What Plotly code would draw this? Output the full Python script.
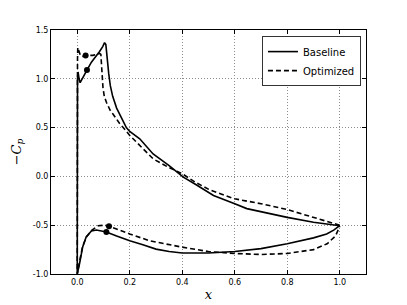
import plotly.graph_objects as go

# Baseline, upper surface (leading edge -> trailing edge)
base_up_x = [0.0, 0.0005, 0.001, 0.003, 0.007, 0.011, 0.02, 0.037, 0.054, 0.07, 0.085, 0.097, 0.104,
             0.109, 0.113, 0.117, 0.12, 0.126, 0.135, 0.15, 0.165, 0.187, 0.2, 0.238, 0.289, 0.35,
             0.404, 0.45, 0.519, 0.6, 0.646, 0.7, 0.8, 0.9, 0.95, 1.0]
base_up_cp = [-1.0, 0.2, 1.0, 1.07, 1.0, 0.96, 1.01, 1.09, 1.17, 1.23, 1.28, 1.33, 1.37,
              1.35, 1.29, 1.15, 1.05, 0.93, 0.82, 0.70, 0.61, 0.50, 0.46, 0.386, 0.23, 0.11,
              -0.007, -0.08, -0.195, -0.28, -0.33, -0.36, -0.42, -0.47, -0.49, -0.505]
# Baseline, lower surface
base_lo_x = [0.0, 0.009, 0.021, 0.034, 0.054, 0.073, 0.092, 0.111, 0.15, 0.2, 0.25, 0.3, 0.35,
             0.4, 0.5, 0.6, 0.7, 0.8, 0.9, 0.95, 0.977, 1.0]
base_lo_cp = [-1.0, -0.89, -0.72, -0.62, -0.56, -0.55, -0.56, -0.57, -0.61, -0.66, -0.70, -0.745,
              -0.77, -0.785, -0.785, -0.77, -0.74, -0.69, -0.63, -0.59, -0.55, -0.505]
# Optimized, upper surface
opt_up_x = [0.0, 0.0, 0.001, 0.002, 0.006, 0.012, 0.02, 0.032, 0.06, 0.085, 0.09, 0.093, 0.098,
            0.103, 0.111, 0.125, 0.136, 0.162, 0.175, 0.2, 0.238, 0.289, 0.35, 0.398, 0.45,
            0.506, 0.6, 0.646, 0.7, 0.8, 0.9, 0.95, 1.0]
opt_up_cp = [-1.0, 0.3, 1.2, 1.32, 1.28, 1.24, 1.23, 1.24, 1.24, 1.26, 1.25, 1.15, 0.91,
             0.82, 0.76, 0.68, 0.64, 0.54, 0.50, 0.42, 0.32, 0.18, 0.09, 0.03, -0.06,
             -0.14, -0.23, -0.25, -0.28, -0.34, -0.42, -0.46, -0.50]
# Optimized, lower surface
opt_lo_x = [0.0, 0.009, 0.02, 0.035, 0.056, 0.08, 0.104, 0.121, 0.16, 0.2, 0.276, 0.39, 0.5,
            0.6, 0.7, 0.8, 0.9, 0.952, 0.984, 1.0]
opt_lo_cp = [-1.0, -0.87, -0.72, -0.62, -0.55, -0.505, -0.50, -0.51, -0.55, -0.59, -0.66, -0.72,
             -0.77, -0.79, -0.80, -0.79, -0.75, -0.69, -0.61, -0.51]

# marker points
base_mark_x = [0.037, 0.111]
base_mark_cp = [1.09, -0.57]
opt_mark_x = [0.032, 0.121]
opt_mark_cp = [1.24, -0.51]

x_ticks = [0.0, 0.2, 0.4, 0.6, 0.8, 1.0]
y_ticks = [-1.0, -0.5, 0.0, 0.5, 1.0, 1.5]

fig = go.Figure()
fig.add_trace(go.Scatter(x=base_up_x[::-1] + base_lo_x, y=base_up_cp[::-1] + base_lo_cp,
                         mode="lines", name="Baseline",
                         line=dict(color="black", width=1.6)))
fig.add_trace(go.Scatter(x=opt_up_x[::-1] + opt_lo_x, y=opt_up_cp[::-1] + opt_lo_cp,
                         mode="lines", name="Optimized",
                         line=dict(color="black", width=1.6, dash="5px,3px")))
fig.add_trace(go.Scatter(x=base_mark_x + opt_mark_x, y=base_mark_cp + opt_mark_cp,
                         mode="markers", showlegend=False,
                         marker=dict(color="black", size=6)))

axis_common = dict(showline=True, linecolor="black", linewidth=1, mirror="allticks",
                   ticks="inside", ticklen=4, tickcolor="black", showgrid=True,
                   gridcolor="#8c8c8c", griddash="1px,2px", gridwidth=1, zeroline=False,
                   automargin=False,
                   tickfont=dict(family="DejaVu Sans", size=8, color="black"))

fig.update_xaxes(range=[-0.1, 1.1], tickvals=x_ticks, ticktext=[f"{v:.1f}" for v in x_ticks],
                 title=dict(text="<i>x</i>", font=dict(family="DejaVu Serif", size=13, color="black"),
                            standoff=4),
                 **axis_common)
fig.update_yaxes(range=[-1.0, 1.5], tickvals=y_ticks, ticktext=[f"{v:.1f}" for v in y_ticks],
                 title=dict(text="\u2212<i>C<sub>p</sub></i>",
                            font=dict(family="DejaVu Serif", size=13, color="black"), standoff=8),
                 **axis_common)

fig.update_layout(width=407, height=305, margin=dict(l=51, r=41, t=30, b=31),
                  paper_bgcolor="white", plot_bgcolor="white",
                  legend=dict(x=0.984, y=0.975, xanchor="right", yanchor="top",
                              bgcolor="white", bordercolor="#333333", borderwidth=1,
                              font=dict(family="DejaVu Sans", size=10, color="black"),
                              tracegroupgap=0, itemwidth=30))

fig.write_html("out.html", config={"displayModeBar": False},
               post_script="document.body.style.margin='0';")
